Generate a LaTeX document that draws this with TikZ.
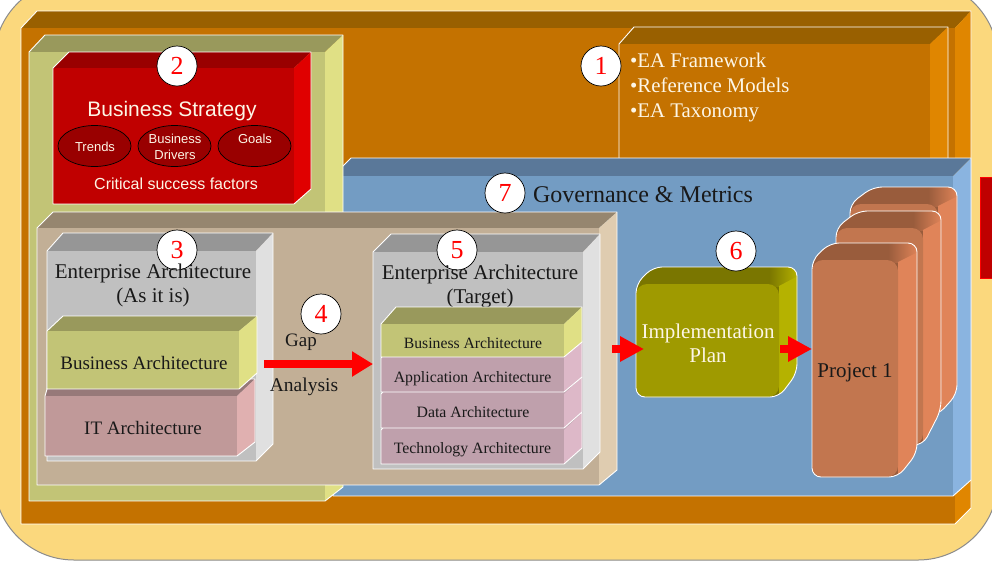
\documentclass[tikz,border=0pt]{standalone}
\usepackage{fontspec}
\setmainfont{Liberation Serif}
\setsansfont{Liberation Sans}
\usetikzlibrary{arrows.meta,shapes.geometric}
\definecolor{paper}{HTML}{FBD87D}
\definecolor{edgegray}{HTML}{8C8C8C}
\definecolor{offwhite}{HTML}{FDF6E6}
\definecolor{pinkfront}{HTML}{BFA0AC}
\definecolor{pinkside}{HTML}{DDB8C8}
\newcommand\palette[3]{\definecolor{cf}{HTML}{#1}\definecolor{ct}{HTML}{#2}\definecolor{cs}{HTML}{#3}}
% name, x-left, x-back, x-sidestart, x-right, y-top, y-fronttop, y-bottom, y-sidebottom
\newcommand\cube[9]{%
  \fill[ct] (#2,#7) -- (#3,#6) -- (#5,#6) -- (#4,#7) -- cycle;
  \fill[cs] (#4,#7) -- (#5,#6) -- (#5,#9) -- (#4,#8) -- cycle;
  \node[coverbox,fill=cf,minimum width={(#4-#2)*1pt},minimum height={(#8-#7)*1pt}] (#1) at ({(#2+#4)/2},{(#7+#8)/2}) {};
  \draw[rimline] (#2,#7) -- (#3,#6) -- (#5,#6) -- (#5,#9) -- (#4,#8) -- (#2,#8) -- cycle;
}
\newcommand\rcube[9]{%
  \begin{scope}
    \clip[rounded corners=9pt] (#2,#7) -- (#3,#6) -- (#5,#6) -- (#5,#9) -- (#4,#8) -- (#2,#8) -- cycle;
    \fill[ct] (#2-5,#6-5) rectangle (#5+5,#8+5);
    \shade[left color=ct,right color=cs] (#4-10,#6-1) rectangle (#5+1,#7+2);
    \fill[cs] (#4,#7+2) -- (#5+1,#7-8) -- (#5+5,#8+5) -- (#4,#8+5) -- cycle;
  \end{scope}
  \node[coverbox,rounded corners=11pt,fill=cf,minimum width={(#4-#2)*1pt},minimum height={(#8-#7)*1pt}] (#1) at ({(#2+#4)/2},{(#7+#8)/2}) {};
  \draw[rimline,rounded corners=9pt] (#2,#7) -- (#3,#6) -- (#5,#6) -- (#5,#9) -- (#4,#8) -- (#2,#8) -- cycle;
}
\tikzset{
  coverbox/.style={inner sep=0pt,outer sep=0pt,draw=none},
  rimline/.style={draw=white,line width=0.9pt,line join=round},
  badge/.style={circle,draw=black,fill=white,line width=0.7pt,minimum size=40pt,inner sep=0pt,text=red,font=\fontsize{26}{26}\selectfont},
  oval/.style={ellipse,draw=black,fill=ct,line width=0.7pt,minimum width=73pt,minimum height=41pt,inner sep=0pt},
  sanswhite/.style={text=offwhite,align=center,inner sep=0pt},
  label/.style={text=black!90,align=center,inner sep=0pt},
  blockarrow/.style={draw=red,line width=8pt,-{Triangle[length=24pt,width=24pt]}},
  gaparrow/.style={draw=red,line width=8pt,-{Triangle[length=21pt,width=24pt]}},
}
\begin{document}
\begin{tikzpicture}[x=1pt,y=-1pt]
\useasboundingbox (0,0) rectangle (992,563);
\clip (0,0) rectangle (992,563);
\fill[white] (0,0) rectangle (992,563);
\draw[edgegray,fill=paper,line width=1pt,rounded corners=80pt] (-6,-20) rectangle (998,560);
% side red block
\fill[fill=red!75!black,draw=red,line width=1pt] (980.5,177) rectangle (1000,278);
% orange
\palette{C47200}{996000}{E08600}
\cube{orange}{21}{37}{955}{971}{11}{28}{524}{508}
% box 1
\cube{eabox}{619}{634}{930}{948}{27}{44}{175}{160}
% blue
\palette{739CC3}{5A7899}{8AB4E0}
\cube{blue}{333}{351}{953}{971}{158}{176}{496}{480}
% yellow-green
\palette{C2C476}{99995C}{E0E085}
\cube{olive}{29}{45}{325}{343}{35}{52}{501}{487}
% red
\palette{C00000}{990000}{E00000}
\cube{strategy}{53}{69}{294}{311}{52}{68}{204}{189}
\node[badge] (n2) at (177,66) {2};
\node[sanswhite,font=\sffamily\fontsize{21}{24}\selectfont] (bstrat) at (172,111) {Business Strategy};
\node[oval] (trends) at (94.5,146) {};
\node[oval] (drivers) at (174.5,146) {};
\node[oval] (goals) at (254.5,146) {};
\node[sanswhite,font=\sffamily\fontsize{13}{16}\selectfont] (ttrends) at (95,146.5) {Trends};
\node[sanswhite,font=\sffamily\fontsize{13}{16}\selectfont] (tdrivers) at (175,146.5) {Business\\Drivers};
\node[sanswhite,font=\sffamily\fontsize{13}{16}\selectfont] (tgoals) at (255,139) {Goals};
\node[sanswhite,font=\sffamily\fontsize{16}{19}\selectfont] (csf) at (176,184) {Critical success factors};
% tan
\palette{C2AF96}{96866F}{DFCCB0}
\cube{tan}{37}{53}{599}{617}{212}{228}{485}{470}
% grey as-is
\palette{C0C0C0}{969696}{E0E0E0}
\cube{asis}{47}{63}{256}{273}{233}{251}{461}{444}
\node[badge] (n3) at (177,250) {3};
\node[label,font=\fontsize{21}{24}\selectfont] (easis) at (153,285.5) {Enterprise Architecture\\(As it is)};
% IT
\palette{C09999}{977979}{E0B0B0}
\cube{it}{45}{50}{237}{255}{379}{396}{456}{442}
% business as-is
\palette{C2C476}{99995C}{E0E085}
\cube{busa}{47}{63}{239}{257}{316}{331}{389}{373}
\node[label,font=\fontsize{19}{20}\selectfont] (tbusa) at (144,363) {Business Architecture};
\node[label,font=\fontsize{19}{20}\selectfont] (tit) at (143,428) {IT Architecture};
% grey target
\palette{C0C0C0}{969696}{E0E0E0}
\cube{target}{373}{391}{583}{600}{234}{252}{469}{452}
\node[badge] (n5) at (457,250) {5};
\node[label,font=\fontsize{21}{24}\selectfont] (etarget) at (480,286.5) {Enterprise Architecture\\(Target)};
% stack
\definecolor{cf}{named}{pinkfront}\definecolor{ct}{named}{pinkfront}\definecolor{cs}{named}{pinkside}
\cube{tech}{381}{396}{564}{582}{413}{430}{464}{448}
\cube{data}{381}{396}{564}{582}{377}{394}{428}{412}
\cube{app}{381}{396}{564}{582}{341}{358}{392}{377}
\palette{C2C476}{99995C}{E0E085}
\cube{busb}{381}{396}{564}{582}{307}{324}{357}{342}
\node[label,font=\fontsize{15.7}{17}\selectfont] (tbusb) at (473,343) {Business Architecture};
\node[label,font=\fontsize{15.8}{17}\selectfont] (tapp) at (472.5,379) {Application Architecture};
\node[label,font=\fontsize{15.8}{17}\selectfont] (tdata) at (473,412.5) {Data Architecture};
\node[label,font=\fontsize{15.8}{17}\selectfont] (ttech) at (472.5,450) {Technology Architecture};
% gap
\node[label,font=\fontsize{19}{20}\selectfont] (tgap) at (301,342) {Gap};
\node[label,font=\fontsize{19.5}{20}\selectfont] (tanalysis) at (304,387) {Analysis};
\node[badge] (n4) at (321,314) {4};
% implementation
\palette{9F9A00}{7A7600}{B5B200}
\rcube{impl}{636}{653}{779}{797}{267}{284}{397}{373}
\node[sanswhite,font=\fontsize{21}{24}\selectfont] (timpl) at (708,343) {Implementation\\Plan};
% projects
\palette{C2764F}{995C3C}{E08459}
\rcube{p3}{850}{873}{938}{957}{187}{204}{415}{394}
\rcube{p2}{836}{858}{923}{941}{211}{228}{445}{410}
\rcube{p1}{812}{830}{898}{917}{243}{260}{477}{453}
\node[label,font=\fontsize{21}{24}\selectfont] (tp1) at (855,373) {Project 1};
% arrows
\coordinate (gapstart) at (264,364);
\coordinate (planstart) at (612,349);
\coordinate (projstart) at (780,349);
\draw[gaparrow] (gapstart) -- (target.west |- gapstart);
\draw[blockarrow] (planstart) -- (644,349);
\draw[blockarrow] (projstart) -- (p1.west |- projstart);
% badges and headings on top
\node[badge] (n1) at (601,66) {1};
\node[badge] (n6) at (736,251) {6};
\node[badge] (n7) at (505,193) {7};
\node[label,font=\fontsize{24}{26}\selectfont] (gov) at (643,195) {Governance \& Metrics};
\node[sanswhite,anchor=base west,font=\fontsize{20.8}{24}\selectfont] (l1) at (630,67) {•EA Framework};
\node[sanswhite,anchor=base west,font=\fontsize{20.8}{24}\selectfont] (l2) at (630,92) {•Reference Models};
\node[sanswhite,anchor=base west,font=\fontsize{20.8}{24}\selectfont] (l3) at (630,117.5) {•EA Taxonomy};
\end{tikzpicture}
\end{document}
